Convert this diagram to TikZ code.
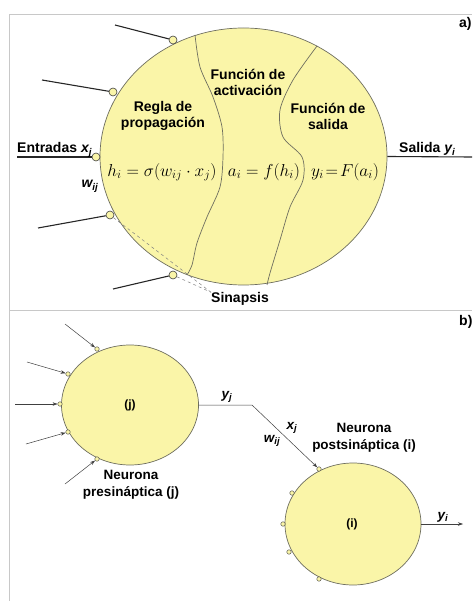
\documentclass[tikz,border=0pt]{standalone}
\usepackage{fontspec}
\setmainfont{Liberation Sans}
\usetikzlibrary{shapes.geometric,arrows.meta}
\definecolor{nfill}{RGB}{250,245,168}
\definecolor{nedge}{RGB}{110,110,95}
\definecolor{framegray}{RGB}{200,200,200}
\begin{document}
\begin{tikzpicture}[x=1pt,y=-1pt,
  neuron/.style={ellipse, draw=nedge, fill=nfill, line width=0.7pt, inner sep=0pt},
  bigsyn/.style={circle, draw=black!75, fill=nfill, line width=0.6pt, inner sep=0pt, minimum size=8pt},
  smallsyn/.style={circle, draw=black!75, fill=nfill, line width=0.4pt, inner sep=0pt, minimum size=4.5pt},
  lbl/.style={font=\bfseries\fontsize{14}{16}\selectfont, align=center, inner sep=0pt},
  lblb/.style={font=\bfseries\fontsize{13.5}{16.5}\selectfont, align=center, inner sep=0pt},
  eq/.style={font=\fontsize{17}{20}\selectfont, inner sep=0pt},
  inline/.style={line width=1.1pt, black!85},
  divide/.style={draw=nedge, line width=0.7pt},
  sinline/.style={draw=gray, dashed, line width=0.5pt},
  inarrow/.style={draw=black!75, line width=0.5pt, -{Stealth[length=5pt,width=3.5pt]}},
  framel/.style={draw=framegray, line width=1pt}]
\useasboundingbox (0,0) rectangle (472,601);
% frames
\draw[framel] (9,15) -- (472,15);
\draw[framel] (9,15) -- (9,601);
\draw[framel] (9,310) -- (472,310);
\node[lbl, anchor=west] (la) at (459,24) {a)};
\node[lbl, anchor=west] (lb) at (459,322) {b)};

% ===== panel a =====
\node[neuron, minimum width=287pt, minimum height=257pt] (N) at (243.5,156.5) {};
\draw[divide] plot[smooth] coordinates {(195,35) (200,67) (213,97) (222,127) (223,157) (220,187) (207,217) (197,243) (192,265) (187,275)};
\draw[divide] plot[smooth] coordinates {(317,46) (293,80) (280,110) (283,137) (302,157) (303,180) (290,207) (280,240) (270,273) (267,285)};

\node[lbl] (t1) at (163,116) {Regla de\\propagación};
\node[lbl] (t2) at (248,82) {Función de\\activación};
\node[lbl] (t3) at (328,116) {Función de\\salida};

\node[eq] (e1) at (162,172) {$h_i=\sigma\bigl(w_{ij}\cdot x_j\bigr)$};
\node[eq] (e2) at (264,172) {$a_i=f\bigl(h_i\bigr)$};
\node[eq] (e3) at (345,172) {$y_i\!=\!F\bigl(a_i\bigr)$};

\node[bigsyn] (s1) at (173,40) {};
\node[bigsyn] (s2) at (113,92) {};
\node[bigsyn] (s3) at (96,157) {};
\node[bigsyn] (s4) at (110,215) {};
\node[bigsyn] (s5) at (173,275) {};
\coordinate (i1) at (115,25);
\coordinate (i2) at (42,80);
\coordinate (i3) at (17,157);
\coordinate (i4) at (38,228);
\coordinate (i5) at (113,289);
\coordinate (o1) at (472,157);
\draw[inline] (i1) -- (s1);
\draw[inline] (i2) -- (s2);
\draw[inline] (i3) -- (s3);
\draw[inline] (i4) -- (s4);
\draw[inline] (i5) -- (s5);
\draw[inline] (N.east) -- (o1);

\node[lbl, anchor=base west] (ent) at (17,153) {Entradas \textit{x\textsubscript{j}}};
\node[lbl, anchor=base] (w1) at (90,188) {\textit{w\textsubscript{ij}}};
\node[lbl, anchor=base west] (sal) at (399,153) {Salida \textit{y\textsubscript{i}}};
\node[lbl] (sin) at (240,299) {Sinapsis};
\draw[sinline] (s4) -- (sin.north west);
\draw[sinline] (s5) -- (sin.north west);

% ===== panel b =====
\node[neuron, minimum width=137pt, minimum height=120pt] (J) at (130,405) {};
\node[font=\bfseries\fontsize{12}{14}\selectfont] (jl) at (130,405) {(j)};
\node[neuron, minimum width=136pt, minimum height=122pt] (I) at (353,524) {};
\node[font=\bfseries\fontsize{12}{14}\selectfont] (il) at (352,524) {(i)};

\node[smallsyn] (j1) at (97,349) {};
\node[smallsyn] (j2) at (68,374) {};
\node[smallsyn] (j3) at (60,404) {};
\node[smallsyn] (j4) at (68,432) {};
\node[smallsyn] (j5) at (97,459) {};
\coordinate (ji1) at (65,324);
\coordinate (ji2) at (27,362);
\coordinate (ji3) at (15,404);
\coordinate (ji4) at (26,444);
\coordinate (ji5) at (65,484);
\draw[inarrow] (ji1) -- (j1);
\draw[inarrow] (ji2) -- (j2);
\draw[inarrow] (ji3) -- (j3);
\draw[inarrow] (ji4) -- (j4);
\draw[inarrow] (ji5) -- (j5);

\node[smallsyn] (k0) at (319,469) {};
\node[smallsyn] (k1) at (292,493) {};
\node[smallsyn] (k2) at (283,524) {};
\node[smallsyn] (k3) at (289,552) {};
\node[smallsyn] (k4) at (319,579) {};

\coordinate (bend) at (252,405);
\draw[inarrow] (J.east) -- (bend) -- (k0);
\coordinate (yo) at (463,524);
\draw[inarrow] (I.east) -- (yo);

\node[lblb] (yj) at (227,397) {\textit{y\textsubscript{j}}};
\node[lblb] (xj) at (292,428) {\textit{x\textsubscript{j}}};
\node[lblb] (wij) at (272,441) {\textit{w\textsubscript{ij}}};
\node[lblb] (yi) at (443,517) {\textit{y\textsubscript{i}}};
\node[lblb] (post) at (364,438) {Neurona\\postsináptica (i)};
\node[lblb] (pre) at (131,485) {Neurona\\presináptica (j)};
\end{tikzpicture}
\end{document}
